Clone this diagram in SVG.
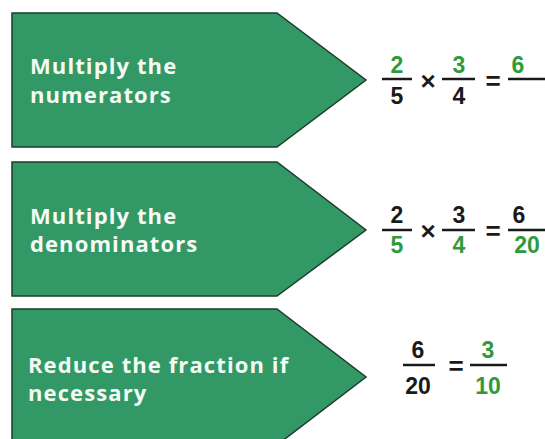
<svg xmlns="http://www.w3.org/2000/svg" width="545" height="439" viewBox="0 0 545 439">
<style>
.box{fill:#329966;stroke:#1d3d2a;stroke-width:1.5}
.lbl{fill:#f4fbf4;font-family:"Comic Sans MS","Open Sans",sans-serif;font-weight:bold;font-size:22px;letter-spacing:1.1px}
.n{font-family:"Liberation Sans",Arial,sans-serif;font-size:23px;text-anchor:middle;font-weight:bold}
.op{font-family:"Liberation Sans",Arial,sans-serif;font-size:26px;text-anchor:middle;font-weight:bold}
.k{fill:#1a1a1a}
.g{fill:#2f9a3c}
.bar{stroke:#1a1a1a;stroke-width:2.5}
</style>
<rect width="545" height="439" fill="#fff"/>
<g id="step1">
<path class="box" d="M12,13 H277 L366,80 L277,147 H12 Z"/>
<text class="lbl" x="30" y="74">Multiply the</text>
<text class="lbl" x="30" y="103">numerators</text>
</g>
<g id="step2">
<path class="box" d="M12,162 H277 L366,230 L277,296 H12 Z"/>
<text class="lbl" x="30" y="224">Multiply the</text>
<text class="lbl" x="30" y="252">denominators</text>
</g>
<g id="step3">
<path class="box" d="M12,309 H277 L366,377 L277,445 H12 Z"/>
<text class="lbl" x="28" y="373">Reduce the fraction if</text>
<text class="lbl" x="28" y="401">necessary</text>
</g>
<g id="eq1">
<line class="bar" x1="382" y1="79" x2="412" y2="79"/>
<text class="n g" x="397" y="73">2</text>
<text class="n k" x="397" y="104">5</text>
<text class="op k" x="428" y="90">×</text>
<line class="bar" x1="442" y1="79" x2="475" y2="79"/>
<text class="n g" x="459" y="73">3</text>
<text class="n k" x="459" y="104">4</text>
<text class="op k" x="493" y="90">=</text>
<line class="bar" x1="508" y1="79" x2="545" y2="79"/>
<text class="n g" x="518" y="73">6</text>
</g>
<g id="eq2">
<line class="bar" x1="382" y1="230" x2="412" y2="230"/>
<text class="n k" x="397" y="223">2</text>
<text class="n g" x="397" y="253">5</text>
<text class="op k" x="428" y="240">×</text>
<line class="bar" x1="442" y1="230" x2="475" y2="230"/>
<text class="n k" x="459" y="223">3</text>
<text class="n g" x="459" y="253">4</text>
<text class="op k" x="493" y="240">=</text>
<line class="bar" x1="508" y1="230" x2="545" y2="230"/>
<text class="n k" x="519" y="223">6</text>
<text class="n g" x="527" y="253">20</text>
</g>
<g id="eq3">
<line class="bar" x1="403" y1="365" x2="435" y2="365"/>
<text class="n k" x="418" y="358">6</text>
<text class="n k" x="418" y="394">20</text>
<text class="op k" x="456" y="375">=</text>
<line class="bar" x1="470" y1="365" x2="507" y2="365"/>
<text class="n g" x="488" y="358">3</text>
<text class="n g" x="488" y="394">10</text>
</g>
</svg>
